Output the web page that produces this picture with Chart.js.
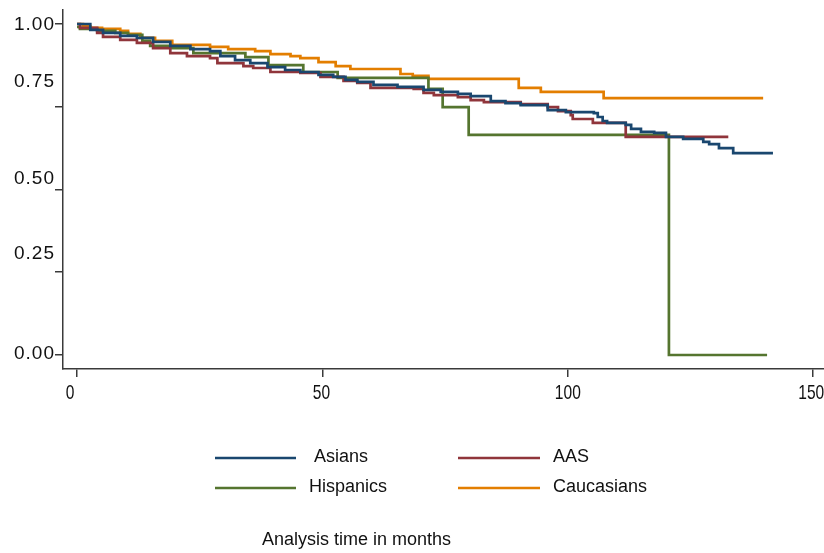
<!DOCTYPE html>
<html>
<head>
<meta charset="utf-8">
<script src="https://cdn.jsdelivr.net/npm/chart.js@4.4.1/dist/chart.umd.min.js"></script>
<style>
  body { margin: 0; background: #fff; }
  #wrap { width: 824px; height: 553px; }
</style>
</head>
<body>
<div id="wrap"><canvas id="kmChart" width="824" height="553"></canvas></div>
<script>
// Kaplan-Meier curves (time in months, survival)
var asiansT = [0, 2.7, 5.3, 8.8, 12.2, 15.5, 19.0, 23.1, 27.1, 29.2, 32.2, 35.3, 38.8, 42.4, 45.5, 49.2, 52.2, 54.7, 57.1, 60.4, 65.3, 70.6, 74.1, 77.6, 80.2, 84.3, 87.3, 90.4, 95.9, 99.6, 105.3, 106.1, 107.1, 108.0, 111.8, 112.9, 114.9, 117.6, 120.0, 123.5, 127.6, 128.8, 130.8, 133.7, 141.8];
var asiansS = [1.0, .982, .973, .964, .958, .946, .934, .924, .918, .903, .891, .882, .870, .861, .855, .846, .840, .831, .825, .816, .810, .801, .795, .789, .782, .767, .761, .755, .740, .734, .731, .719, .707, .701, .695, .683, .674, .671, .659, .653, .644, .637, .625, .610, .610];

var aasT = [0, 0.6, 4.1, 5.3, 8.8, 12.2, 15.5, 19.0, 22.4, 27.1, 28.6, 33.9, 35.9, 39.4, 45.5, 49.6, 54.3, 57.1, 59.8, 68.6, 70.6, 72.7, 77.6, 80.2, 82.9, 90.4, 95.9, 98.0, 100.6, 101.0, 105.1, 111.8, 132.7];
var aasS = [1.0, .988, .973, .961, .952, .943, .927, .912, .903, .897, .882, .873, .867, .855, .852, .840, .828, .822, .807, .804, .792, .785, .779, .770, .764, .758, .749, .737, .725, .713, .701, .659, .659];

var hispT = [0, 0.6, 4.1, 7.8, 10.4, 13.3, 14.9, 19.0, 23.7, 34.3, 39.0, 46.1, 53.1, 71.6, 74.5, 79.8, 120.6, 140.6];
var hispS = [.991, .985, .979, .973, .967, .949, .934, .927, .912, .900, .876, .855, .837, .804, .749, .665, 0, 0];

var caucT = [0, 1.2, 2.7, 5.1, 8.8, 10.4, 12.9, 15.9, 19.4, 27.1, 30.8, 36.3, 39.4, 43.5, 45.5, 49.2, 52.7, 55.7, 65.9, 68.4, 71.6, 90.0, 94.5, 107.3, 139.8];
var caucS = [1.0, .994, .988, .985, .979, .970, .958, .949, .937, .931, .924, .918, .909, .903, .897, .885, .873, .864, .849, .843, .834, .807, .795, .776, .776];

var groupNames = ['Asians', 'AAS', 'Hispanics', 'Caucasians'];
var groupColors = ['#1a476f', '#90353b', '#55752f', '#e37e00'];

var xTicks = [0, 50, 100, 150];
var xTickText = ['0', '50', '100', '150'];
// where the x labels sit in the picture (slightly left of their ticks)
var xLabelAt = [-1.4, 49.8, 100, 149.6];
var yTicks = [0, 0.25, 0.5, 0.75, 1];
var yTickText = ['0.00', '0.25', '0.50', '0.75', '1.00'];
// where the y labels sit in the picture (they are not level with their ticks)
var yLabelAt = [0.006, 0.308, 0.535, 0.828, 1.0];
var xTitle = 'Analysis time in months';

function toPoints(ts, ss) {
	var pts = [];
	for (var i = 0; i < ts.length; i++) {
		pts.push({ x: ts[i], y: ss[i] });
	}
	return pts;
}

var series = [
	toPoints(asiansT, asiansS),
	toPoints(aasT, aasS),
	toPoints(hispT, hispS),
	toPoints(caucT, caucS)
];

var axisColor = '#3a3a3a';
var textFont = '"Liberation Sans", Arial, sans-serif';

// tick labels drawn by hand so they can sit where the reference has them
var tickLabelPlugin = {
	id: 'tickLabels',
	afterDraw: function(chart) {
		var ctx = chart.ctx;
		var x = chart.scales.x;
		var y = chart.scales.y;
		ctx.save();
		ctx.fillStyle = '#111';
		ctx.font = '19px ' + textFont;
		ctx.letterSpacing = '1px';
		ctx.textAlign = 'right';
		ctx.textBaseline = 'middle';
		for (var i = 0; i < yTickText.length; i++) {
			ctx.fillText(yTickText[i], y.left + 55, y.getPixelForValue(yLabelAt[i]) + 1);
		}
		// x labels: tall narrow figures, as in the reference
		ctx.letterSpacing = '0px';
		ctx.font = '21px ' + textFont;
		ctx.textAlign = 'center';
		var squeeze = 0.74;
		for (var j = 0; j < xTickText.length; j++) {
			ctx.save();
			ctx.translate(x.getPixelForValue(xLabelAt[j]), x.top + 24);
			ctx.scale(squeeze, 1);
			ctx.fillText(xTickText[j], 0, 0);
			ctx.restore();
		}
		ctx.restore();
	}
};

// legend in two columns plus the axis title below it
var legendPlugin = {
	id: 'kmLegend',
	afterDraw: function(chart) {
		var ctx = chart.ctx;
		var cols = [[215, 296], [458, 540]];
		var rows = [458, 488];
		var textX = [314, 553, 309, 553];
		ctx.save();
		ctx.font = '18px ' + textFont;
		ctx.textBaseline = 'middle';
		for (var i = 0; i < groupNames.length; i++) {
			var c = cols[i % 2];
			var r = rows[Math.floor(i / 2)];
			ctx.strokeStyle = groupColors[i];
			ctx.lineWidth = 2.5;
			ctx.beginPath();
			ctx.moveTo(c[0], r);
			ctx.lineTo(c[1], r);
			ctx.stroke();
			ctx.fillStyle = '#111';
			ctx.fillText(groupNames[i], textX[i], r - 1);
		}
		ctx.fillText(xTitle, 262, 540);
		ctx.restore();
	}
};

var datasets = [];
for (var i = 0; i < groupNames.length; i++) {
	datasets.push({
		label: groupNames[i],
		data: series[i],
		borderColor: groupColors[i],
		backgroundColor: groupColors[i],
		borderWidth: 2.7,
		pointRadius: 0,
		stepped: true,
		fill: false
	});
}

new Chart(document.getElementById('kmChart'), {
	type: 'line',
	data: { datasets: datasets },
	options: {
		responsive: false,
		animation: false,
		layout: { padding: { top: 10, right: 0, left: 0, bottom: 0 } },
		plugins: {
			legend: { display: false },
			tooltip: { enabled: false }
		},
		scales: {
			x: {
				type: 'linear',
				min: -2.86,
				max: 152.2,
				afterBuildTicks: function(scale) {
					scale.ticks = xTicks.map(function(v) { return { value: v }; });
				},
				afterFit: function(scale) {
					scale.height = 184;
					scale.paddingLeft = 0;
					scale.paddingRight = 0;
				},
				grid: { drawOnChartArea: false, drawTicks: true, tickLength: 8, color: axisColor, lineWidth: 1.5 },
				border: { color: axisColor, width: 1.5 },
				ticks: { display: false }
			},
			y: {
				type: 'linear',
				min: -0.0423,
				max: 1.0423,
				afterBuildTicks: function(scale) {
					scale.ticks = yTicks.map(function(v) { return { value: v }; });
				},
				afterFit: function(scale) {
					scale.width = 63;
					scale.paddingTop = 0;
					scale.paddingBottom = 0;
				},
				grid: { drawOnChartArea: false, drawTicks: true, tickLength: 8, color: axisColor, lineWidth: 1.5 },
				border: { color: axisColor, width: 1.5 },
				ticks: { display: false }
			}
		}
	},
	plugins: [tickLabelPlugin, legendPlugin]
});
</script>
</body>
</html>
